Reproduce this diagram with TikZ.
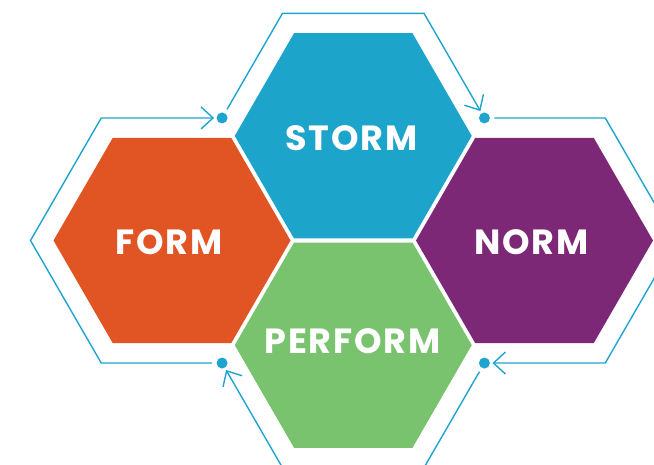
\documentclass[tikz,border=0pt]{standalone}
\usepackage{fontspec}
\newfontfamily\lblfont{Poppins}[LetterSpace=5]
\usetikzlibrary{arrows.meta,shapes.geometric}
\definecolor{cform}{HTML}{E15524}
\definecolor{cstorm}{HTML}{1DA4CB}
\definecolor{cnorm}{HTML}{7D2777}
\definecolor{cperf}{HTML}{7AC36E}
\definecolor{cline}{HTML}{1FA3CF}
\tikzset{
  hexbox/.style={regular polygon, regular polygon sides=6, minimum size=237pt,
    inner sep=0pt, outer sep=0pt},
  lbl/.style={inner sep=0pt, text=white, font=\lblfont\bfseries\fontsize{35}{35}\selectfont},
  dotnode/.style={circle, fill=cline, inner sep=0pt, minimum size=11pt, outer sep=0pt},
  flow/.style={draw=cline, line width=1.4pt, line join=miter,
    shorten <=4.5pt, shorten >=2.5pt,
    -{Straight Barb[length=12pt,width=22pt,line width=1.4pt]}}
}
\begin{document}
\begin{tikzpicture}[x=1pt,y=-1pt]
\useasboundingbox (0,0) rectangle (654,465);
\clip (0,0) rectangle (654,465);
% hexagons
\node[hexbox, fill=cform] (form) at (172,240.5) {};
\node[hexbox, fill=cstorm] (storm) at (353.25,135.86) {};
\node[hexbox, fill=cnorm] (norm) at (534.5,240.5) {};
\node[hexbox, fill=cperf] (perform) at (353.25,345.14) {};
% labels
\node[lbl] (formtxt) at (169,242) {FORM};
\node[lbl] (stormtxt) at (351.5,138) {STORM};
\node[lbl] (normtxt) at (531.5,242) {NORM};
\node[lbl] (performtxt) at (352.5,341) {PERFORM};
% outer outline corners
\coordinate (fbl) at (101.25,363.04);
\coordinate (fl) at (30.5,240.5);
\coordinate (ftl) at (101.25,117.96);
\coordinate (stl) at (282.5,13.32);
\coordinate (str) at (424,13.32);
\coordinate (ntr) at (605.25,117.96);
\coordinate (nr) at (676,240.5);
\coordinate (nbr) at (605.25,363.04);
\coordinate (pbr) at (424,467.68);
\coordinate (pbl) at (282.5,467.68);
% dots
\node[dotnode] (d1) at (222.08,117.96) {};
\node[dotnode] (d2) at (484.42,117.96) {};
\node[dotnode] (d3) at (484.42,363.04) {};
\node[dotnode] (d4) at (222.08,363.04) {};
% flows
\draw[flow] (d4) -- (fbl) -- (fl) -- (ftl) -- (d1);
\draw[flow] (d1) -- (stl) -- (str) -- (d2);
\draw[flow] (d2) -- (ntr) -- (nr) -- (nbr) -- (d3);
\draw[flow] (d3) -- (pbr) -- (pbl) -- (d4);
\end{tikzpicture}
\end{document}
